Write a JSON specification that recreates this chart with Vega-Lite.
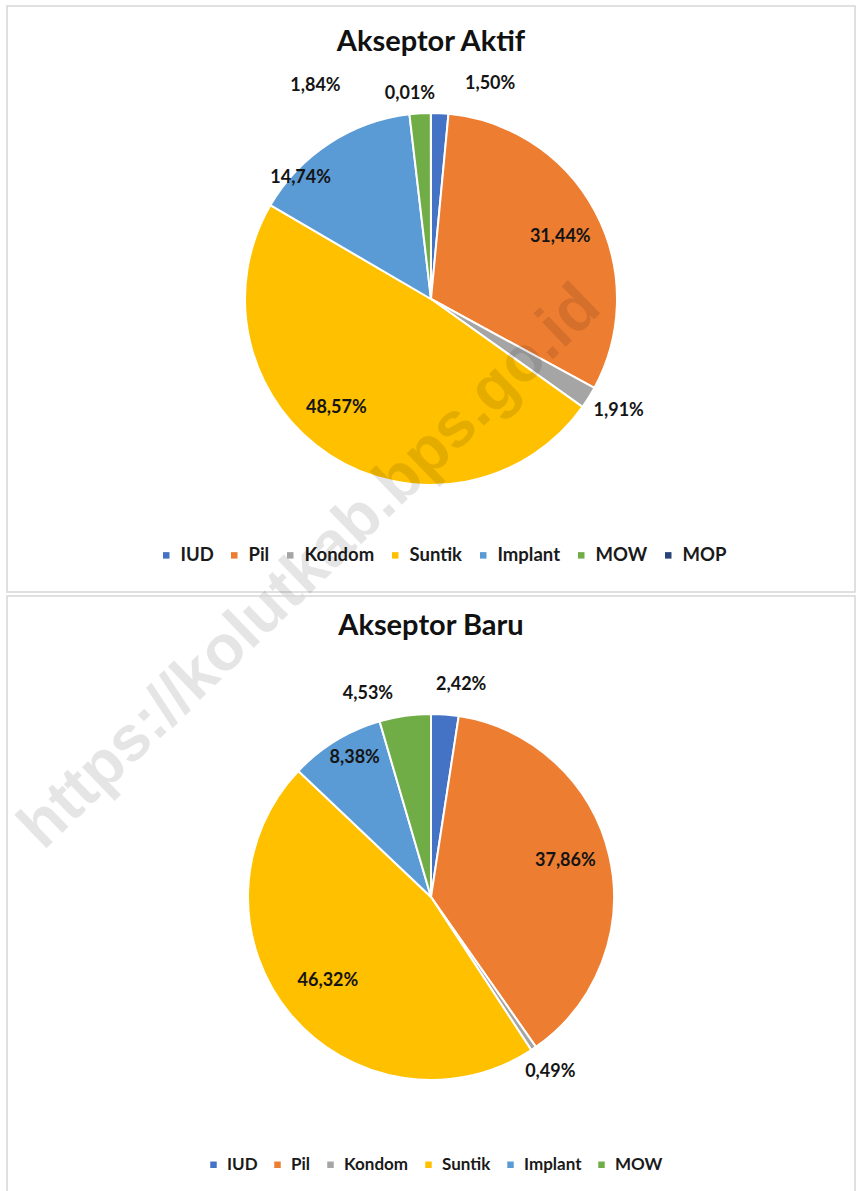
{
  "$schema": "https://vega.github.io/schema/vega-lite/v6.json",
  "background": "white",
  "padding": {"left": 6, "top": 5, "right": 0, "bottom": 0},
  "bounds": "flush",
  "spacing": 4,
  "config": {
    "view": {"stroke": null},
    "text": {"font": "Lato", "fontSize": 18, "fontWeight": "bold", "fill": "#141414", "align": "center", "baseline": "middle"},
    "title": {"font": "Lato", "fontSize": 29, "fontWeight": "bold", "color": "#111111", "anchor": "middle"},
    "legend": {"orient": "none", "direction": "horizontal", "title": null, "symbolType": "square", "symbolSize": 42, "symbolStrokeWidth": 0, "labelFont": "Lato", "labelFontSize": 18.5, "labelFontWeight": "bold", "labelColor": "#1a1a1a", "columnPadding": 11, "labelOffset": 5}
  },
  "resolve": {"scale": {"color": "independent", "theta": "independent"}},
  "vconcat": [
    {
      "width": 848,
      "height": 586,
      "title": {"text": "Akseptor Aktif", "offset": -52},
      "layer": [
        {
          "data": {"values": [{"frame": 1}]},
          "mark": {"type": "rect", "fill": null, "fillOpacity": 0, "stroke": "#d6d6d6", "strokeWidth": 1.5},
          "encoding": {}
        },
        {
          "data": {"values": [
            {"jenis": "IUD", "persen": 1.50, "label": "1,50%", "urut": 1},
            {"jenis": "Pil", "persen": 31.44, "label": "31,44%", "urut": 2},
            {"jenis": "Kondom", "persen": 1.91, "label": "1,91%", "urut": 3},
            {"jenis": "Suntik", "persen": 48.57, "label": "48,57%", "urut": 4},
            {"jenis": "Implant", "persen": 14.74, "label": "14,74%", "urut": 5},
            {"jenis": "MOW", "persen": 1.84, "label": "1,84%", "urut": 6},
            {"jenis": "MOP", "persen": 0.01, "label": "0,01%", "urut": 7}
          ]},
          "encoding": {
            "theta": {"field": "persen", "type": "quantitative", "stack": true},
            "order": {"field": "urut", "type": "quantitative"},
            "detail": {"field": "jenis", "type": "nominal"}
          },
          "layer": [
            {
              "mark": {"type": "arc", "radius": 186, "stroke": "white", "strokeWidth": 2},
              "encoding": {
                "color": {
                  "field": "jenis", "type": "nominal",
                  "scale": {"domain": ["IUD", "Pil", "Kondom", "Suntik", "Implant", "MOW", "MOP"], "range": ["#4472C4", "#ED7D31", "#A5A5A5", "#FFC000", "#5B9BD5", "#70AD47", "#264478"]},
                  "legend": {"legendX": 150, "legendY": 540, "columns": 7}
                }
              }
            },
            {"mark": {"type": "text", "radius": 215, "dx": 49, "dy": 0}, "encoding": {"text": {"condition": {"test": "datum.jenis === 'IUD'", "field": "label"}, "value": ""}}},
            {"mark": {"type": "text", "radius": 143, "dx": 3, "dy": 5}, "encoding": {"text": {"condition": {"test": "datum.jenis === 'Pil'", "field": "label"}, "value": ""}}},
            {"mark": {"type": "text", "radius": 219, "dx": 2, "dy": -4}, "encoding": {"text": {"condition": {"test": "datum.jenis === 'Kondom'", "field": "label"}, "value": ""}}},
            {"mark": {"type": "text", "radius": 145, "dx": -16, "dy": -13}, "encoding": {"text": {"condition": {"test": "datum.jenis === 'Suntik'", "field": "label"}, "value": ""}}},
            {"mark": {"type": "text", "radius": 145, "dx": -51, "dy": 0}, "encoding": {"text": {"condition": {"test": "datum.jenis === 'Implant'", "field": "label"}, "value": ""}}},
            {"mark": {"type": "text", "radius": 215, "dx": -103, "dy": 2}, "encoding": {"text": {"condition": {"test": "datum.jenis === 'MOW'", "field": "label"}, "value": ""}}},
            {"mark": {"type": "text", "radius": 205, "dx": -21, "dy": 0}, "encoding": {"text": {"condition": {"test": "datum.jenis === 'MOP'", "field": "label"}, "value": ""}}}
          ]
        },
        {
          "data": {"values": [{"w": "https://kolutkab.bps.go.id"}]},
          "mark": {"type": "text", "theta": 3.565, "radius": 294, "angle": -44, "font": "Liberation Sans", "fontSize": 64, "fontWeight": "bold", "fill": "#000000", "fillOpacity": 0.1},
          "encoding": {"text": {"field": "w", "type": "nominal"}}
        }
      ]
    },
    {
      "width": 848,
      "height": 602,
      "title": {"text": "Akseptor Baru", "offset": -46},
      "layer": [
        {
          "data": {"values": [{"frame": 1}]},
          "mark": {"type": "rect", "fill": null, "fillOpacity": 0, "stroke": "#d6d6d6", "strokeWidth": 1.5},
          "encoding": {}
        },
        {
          "data": {"values": [
            {"jenis": "IUD", "persen": 2.42, "label": "2,42%", "urut": 1},
            {"jenis": "Pil", "persen": 37.86, "label": "37,86%", "urut": 2},
            {"jenis": "Kondom", "persen": 0.49, "label": "0,49%", "urut": 3},
            {"jenis": "Suntik", "persen": 46.32, "label": "46,32%", "urut": 4},
            {"jenis": "Implant", "persen": 8.38, "label": "8,38%", "urut": 5},
            {"jenis": "MOW", "persen": 4.53, "label": "4,53%", "urut": 6}
          ]},
          "encoding": {
            "theta": {"field": "persen", "type": "quantitative", "stack": true},
            "order": {"field": "urut", "type": "quantitative"},
            "detail": {"field": "jenis", "type": "nominal"}
          },
          "layer": [
            {
              "mark": {"type": "arc", "radius": 183, "stroke": "white", "strokeWidth": 2},
              "encoding": {
                "color": {
                  "field": "jenis", "type": "nominal",
                  "scale": {"domain": ["IUD", "Pil", "Kondom", "Suntik", "Implant", "MOW"], "range": ["#4472C4", "#ED7D31", "#A5A5A5", "#FFC000", "#5B9BD5", "#70AD47"]},
                  "legend": {"legendX": 198, "legendY": 560, "columns": 6, "labelFontSize": 17, "columnPadding": 11}
                }
              }
            },
            {"mark": {"type": "text", "radius": 213, "dx": 14, "dy": 0}, "encoding": {"text": {"condition": {"test": "datum.jenis === 'IUD'", "field": "label"}, "value": ""}}},
            {"mark": {"type": "text", "radius": 139, "dx": -1, "dy": -4}, "encoding": {"text": {"condition": {"test": "datum.jenis === 'Pil'", "field": "label"}, "value": ""}}},
            {"mark": {"type": "text", "radius": 211, "dx": 1, "dy": 0}, "encoding": {"text": {"condition": {"test": "datum.jenis === 'Kondom'", "field": "label"}, "value": ""}}},
            {"mark": {"type": "text", "radius": 133, "dx": -1, "dy": -1}, "encoding": {"text": {"condition": {"test": "datum.jenis === 'Suntik'", "field": "label"}, "value": ""}}},
            {"mark": {"type": "text", "radius": 158, "dx": 6, "dy": -4}, "encoding": {"text": {"condition": {"test": "datum.jenis === 'Implant'", "field": "label"}, "value": ""}}},
            {"mark": {"type": "text", "radius": 212, "dx": -33, "dy": 7}, "encoding": {"text": {"condition": {"test": "datum.jenis === 'MOW'", "field": "label"}, "value": ""}}}
          ]
        }
      ]
    }
  ]
}
